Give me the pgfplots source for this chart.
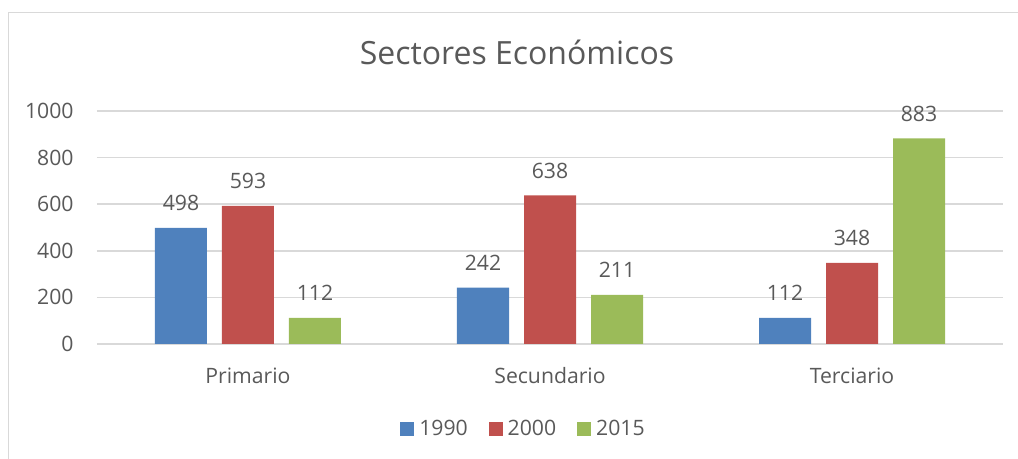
\documentclass[border=0pt]{standalone}
\usepackage{pgfplots}
\pgfplotsset{compat=1.18}
\usepackage{fontspec}
\setmainfont{Open Sans}
\definecolor{serA}{HTML}{4F81BD}
\definecolor{serB}{HTML}{C0504D}
\definecolor{serC}{HTML}{9BBB59}
\definecolor{txt}{HTML}{595959}
\definecolor{grd}{HTML}{D9D9D9}

\begin{document}
\begin{tikzpicture}
  % 1 px of the reference = 0.5pt; plot area lower left at (0,0)
  \path[use as bounding box] (-48.5pt,-57.5pt) rectangle (460.5pt,172pt);
  \begin{axis}[
    scale only axis,
    width=453pt, height=116.5pt,
    xmin=-0.5, xmax=2.5,
    ymin=0, ymax=1000,
    ytick={0,200,...,1000},
    xtick={0,1,2},
    xticklabels={Primario,Secundario,Terciario},
    ybar=7.5pt, bar width=26pt,
    axis line style={draw=none},
    major tick length=0pt,
    ymajorgrids,
    grid style={grd,line width=0.75pt},
    /pgf/number format/assume math mode=true,
    /pgf/number format/1000 sep={},
    tick label style={font=\fontsize{10.6pt}{12pt}\selectfont,text=txt},
    yticklabel style={anchor=east,inner sep=0pt,xshift=-11.5pt},
    xticklabel style={anchor=base,inner sep=0pt,yshift=-20pt},
    nodes near coords,
    every node near coord/.append style={font=\fontsize{10.6pt}{12pt}\selectfont,
      text=txt,anchor=base,inner sep=0pt,yshift=8.5pt},
    legend columns=3,
    legend style={draw=none,fill=none,at={(0.4724,-0.3648)},anchor=center,
      font=\fontsize{10.6pt}{12pt}\selectfont,text=txt,
      /tikz/every even column/.append style={column sep=8pt},
      nodes={inner sep=2.5pt}},
    legend image code/.code={\fill[#1] (0pt,-3.5pt) rectangle (7pt,3.5pt);},
  ]
    \addplot[fill=serA,draw=none] coordinates {(0,498) (1,242) (2,112)};
    \addplot[fill=serB,draw=none] coordinates {(0,593) (1,638) (2,348)};
    \addplot[fill=serC,draw=none] coordinates {(0,112) (1,211) (2,883)};
    \legend{1990,2000,2015}
  \end{axis}
  \node[anchor=base,font=\fontsize{16pt}{19pt}\selectfont,text=txt]
    at (210pt,139.5pt) {Sectores Económicos};
  \draw[grd,line width=0.75pt] (-44.25pt,-80pt) rectangle (470pt,165.75pt);
\end{tikzpicture}
\end{document}
